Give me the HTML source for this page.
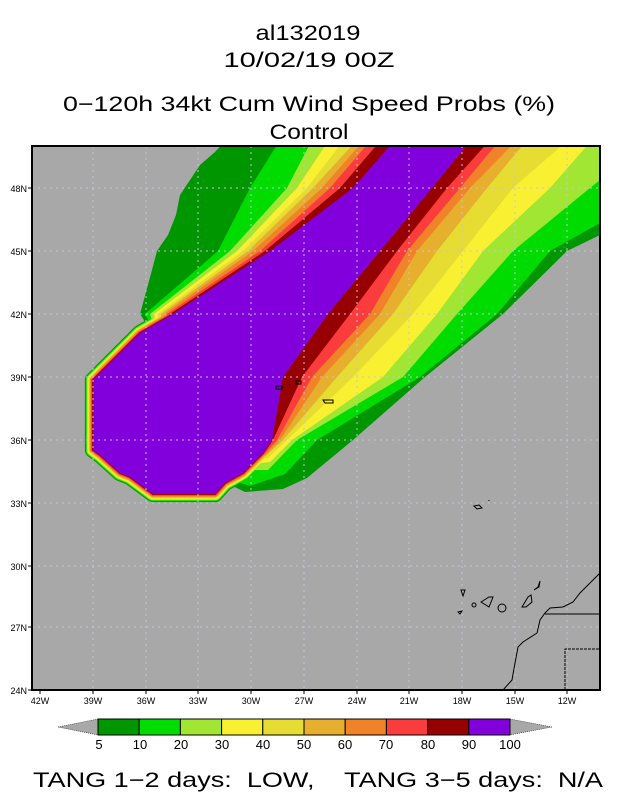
<!DOCTYPE html>
<html><head><meta charset="utf-8"><style>
html,body{margin:0;padding:0;background:#fff;}
svg{display:block;}
text{font-family:"Liberation Sans",sans-serif;fill:#000;}
</style></head><body>
<svg width="618" height="800" viewBox="0 0 618 800" xmlns="http://www.w3.org/2000/svg">
<rect width="618" height="800" fill="#fff"/>
<text x="308" y="40" font-size="21" text-anchor="middle" textLength="105" lengthAdjust="spacingAndGlyphs">al132019</text>
<text x="309" y="67" font-size="21" text-anchor="middle" textLength="171" lengthAdjust="spacingAndGlyphs">10/02/19 00Z</text>
<text x="309" y="111" font-size="21" text-anchor="middle" textLength="492" lengthAdjust="spacingAndGlyphs">0−120h 34kt Cum Wind Speed Probs (%)</text>
<text x="309" y="139" font-size="21" text-anchor="middle" textLength="79" lengthAdjust="spacingAndGlyphs">Control</text>
<defs><clipPath id="c"><rect x="32" y="146" width="568" height="544"/></clipPath></defs>
<g clip-path="url(#c)">
<rect x="32" y="146" width="568" height="544" fill="#a8a8a8"/>
<g stroke-linejoin="round">
<polygon fill="#009600" points="226,140 215,152 200,165 190,180 180,195 176,215 168,235 157,251 152,270 146,292 140,314 160,345 200,470 245,492 283,489 307,478 353,440 425,377 503,314 567,251 600,235 600,140"/>
<polygon fill="#009600" stroke="#009600" stroke-width="16.2" points="173,314 140,333 93,380 93,450 100,455 120,473 130,477 153,494 215,494 225,483 243,473 263,453 272,440"/>
<polygon fill="#00dc00" points="280,140 250,188 218,251 145,314 160,345 200,470 250,486 285,474 317,440 420,377 497,314 550,251 600,223 600,140"/>
<polygon fill="#00dc00" stroke="#00dc00" stroke-width="14.4" points="173,314 140,333 93,380 93,450 100,455 120,473 130,477 153,494 215,494 225,483 243,473 263,453 272,440"/>
<polygon fill="#a0e632" points="312,140 287,188 230,251 150,314 160,345 200,470 268,470 297,440 403,377 457,314 513,251 590,188 600,180 600,140"/>
<polygon fill="#a0e632" stroke="#a0e632" stroke-width="12.6" points="173,314 140,333 93,380 93,450 100,455 120,473 130,477 153,494 215,494 225,483 243,473 263,453 272,440"/>
<polygon fill="#faf032" points="329,140 297,188 237,251 154,314 160,345 200,470 270,462 292,440 383,377 437,314 483,251 550,188 592,140"/>
<polygon fill="#faf032" stroke="#faf032" stroke-width="10.8" points="173,314 140,333 93,380 93,450 100,455 120,473 130,477 153,494 215,494 225,483 243,473 263,453 272,440"/>
<polygon fill="#e6dc32" points="344,140 307,188 243,251 158,314 160,345 200,470 268,458 287,440 353,377 413,314 463,251 513,188 568,140"/>
<polygon fill="#e6dc32" stroke="#e6dc32" stroke-width="9" points="173,314 140,333 93,380 93,450 100,455 120,473 130,477 153,494 215,494 225,483 243,473 263,453 272,440"/>
<polygon fill="#e6af2d" points="357,140 313,188 248,251 161,314 160,345 200,470 266,456 283,440 337,377 393,314 437,251 487,188 527,140"/>
<polygon fill="#e6af2d" stroke="#e6af2d" stroke-width="7.2" points="173,314 140,333 93,380 93,450 100,455 120,473 130,477 153,494 215,494 225,483 243,473 263,453 272,440"/>
<polygon fill="#f08228" points="364,140 322,188 253,251 164,314 160,345 200,470 265,455 280,440 322,377 380,314 417,251 470,188 517,140"/>
<polygon fill="#f08228" stroke="#f08228" stroke-width="5.4" points="173,314 140,333 93,380 93,450 100,455 120,473 130,477 153,494 215,494 225,483 243,473 263,453 272,440"/>
<polygon fill="#fa3c3c" points="371,140 330,188 260,251 167,314 160,345 200,470 264,454 277,440 312,377 370,314 407,251 460,188 500,140"/>
<polygon fill="#fa3c3c" stroke="#fa3c3c" stroke-width="3.6" points="173,314 140,333 93,380 93,450 100,455 120,473 130,477 153,494 215,494 225,483 243,473 263,453 272,440"/>
<polygon fill="#960000" points="381,140 340,188 265,251 170,314 160,345 200,470 263,453 273,440 302,377 350,314 397,251 447,188 490,140"/>
<polygon fill="#960000" stroke="#960000" stroke-width="1.8" points="173,314 140,333 93,380 93,450 100,455 120,473 130,477 153,494 215,494 225,483 243,473 263,453 272,440"/>
<polygon fill="#8200dc" points="395,140 471,140 432,188 380,251 328,314 283,377 272,440 263,453 243,473 225,483 215,494 153,494 130,477 120,473 100,455 93,450 93,380 140,333 173,314 270,251 353,188"/>
</g>
<g stroke="#c4c4dc" stroke-width="1" stroke-dasharray="2,4" fill="none">
<path d="M93,146V690M146,146V690M198,146V690M251,146V690M304,146V690M357,146V690M409,146V690M462,146V690M515,146V690M567,146V690"/>
<path d="M32,188H600M32,251H600M32,314H600M32,377H600M32,440H600M32,503H600M32,566H600M32,627H600"/>
</g>
<g fill="none" stroke="#000" stroke-width="1">
<polyline points="503,690 512,680 515,663 518,647 523,642 537,633 540,620 545,613 550,608 563,607 573,602 580,593 593,580 600,573"/>
<path d="M545,614H600"/>
<path d="M565,690V649H600" stroke-dasharray="3,1"/>
<path d="M461,590l4,0-2,6z"/>
<circle cx="474" cy="605" r="2"/>
<path d="M481,602l8,-5 4,0-4,10z"/>
<circle cx="502" cy="608" r="4"/>
<path d="M522,607l6,-10 3,-2 1,7-6,5z"/>
<path d="M534,590l4,-3 2,-6-1,6z"/>
<path d="M458,612l4,-1-2,3z"/>
<path d="M474,506l5,-1 3,3-5,1z"/>
<path d="M489,500v1"/>
<path d="M276,386h6v3h-6z"/>
<path d="M296,381h5v3h-5z"/>
<path d="M323,400h10v3h-8z"/>
</g>
</g>
<rect x="32" y="146" width="568" height="544" fill="none" stroke="#000" stroke-width="2"/>
<g font-size="9" text-anchor="end">
<text x="27" y="192">48N</text><text x="27" y="255">45N</text><text x="27" y="318">42N</text>
<text x="27" y="381">39N</text><text x="27" y="444">36N</text><text x="27" y="507">33N</text>
<text x="27" y="570">30N</text><text x="27" y="631">27N</text><text x="27" y="694">24N</text>
</g>
<g stroke="#000"><path d="M28,188h4M28,251h4M28,314h4M28,377h4M28,440h4M28,503h4M28,566h4M28,627h4M28,690h4"/>
<path d="M40,690v4M93,690v4M146,690v4M198,690v4M251,690v4M304,690v4M357,690v4M409,690v4M462,690v4M515,690v4M567,690v4"/></g>
<g font-size="9" text-anchor="middle">
<text x="40" y="704">42W</text><text x="93" y="704">39W</text><text x="146" y="704">36W</text><text x="198" y="704">33W</text>
<text x="251" y="704">30W</text><text x="304" y="704">27W</text><text x="357" y="704">24W</text><text x="409" y="704">21W</text>
<text x="462" y="704">18W</text><text x="515" y="704">15W</text><text x="567" y="704">12W</text>
</g>
<polygon points="58,727 98,719 98,735" fill="#a8a8a8" stroke="#000" stroke-width="0.5" stroke-dasharray="1,1"/>
<polygon points="552,727 510,719 510,735" fill="#a8a8a8" stroke="#000" stroke-width="0.5" stroke-dasharray="1,1"/>
<g stroke="#000" stroke-width="1">
<rect x="98" y="719" width="41.2" height="16" fill="#009600"/>
<rect x="139.2" y="719" width="41.2" height="16" fill="#00dc00"/>
<rect x="180.4" y="719" width="41.2" height="16" fill="#a0e632"/>
<rect x="221.6" y="719" width="41.2" height="16" fill="#faf032"/>
<rect x="262.8" y="719" width="41.2" height="16" fill="#e6dc32"/>
<rect x="304" y="719" width="41.2" height="16" fill="#e6af2d"/>
<rect x="345.2" y="719" width="41.2" height="16" fill="#f08228"/>
<rect x="386.4" y="719" width="41.2" height="16" fill="#fa3c3c"/>
<rect x="427.6" y="719" width="41.2" height="16" fill="#960000"/>
<rect x="468.8" y="719" width="41.2" height="16" fill="#8200dc"/>
</g>
<g font-size="13" text-anchor="middle">
<text x="99" y="749">5</text><text x="140" y="749">10</text><text x="181" y="749">20</text><text x="222" y="749">30</text>
<text x="263" y="749">40</text><text x="304" y="749">50</text><text x="345" y="749">60</text><text x="386" y="749">70</text>
<text x="428" y="749">80</text><text x="469" y="749">90</text><text x="510" y="749">100</text>
</g>
<text x="33" y="787" font-size="21" textLength="570" lengthAdjust="spacingAndGlyphs" xml:space="preserve">TANG 1−2 days:  LOW,    TANG 3−5 days:  N/A</text>
</svg>
</body></html>
